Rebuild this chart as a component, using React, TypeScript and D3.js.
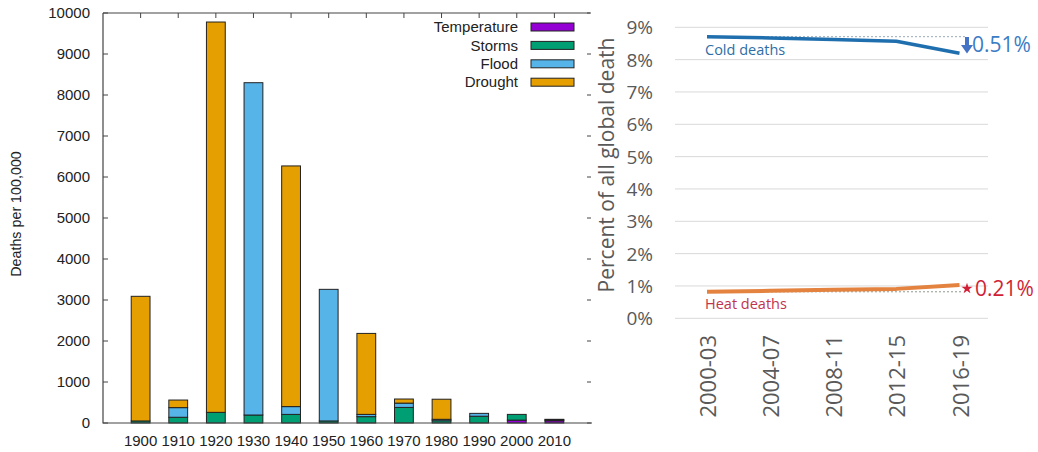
import React from "react";
import * as d3 from "d3";

// ---------- Left chart data (deaths per 100,000, stacked) ----------
const decades = ["1900", "1910", "1920", "1930", "1940", "1950", "1960", "1970", "1980", "1990", "2000", "2010"];
const temperature = [0, 0, 0, 0, 0, 0, 0, 0, 0, 0, 70, 55];
const storms = [50, 140, 260, 195, 210, 50, 155, 380, 55, 165, 140, 25];
const flood = [0, 235, 0, 8105, 190, 3210, 55, 105, 35, 70, 0, 10];
const drought = [3040, 185, 9520, 0, 5870, 0, 1975, 100, 490, 0, 0, 0];
const leftYTicks = [0, 1000, 2000, 3000, 4000, 5000, 6000, 7000, 8000, 9000, 10000];
const seriesNames = ["Temperature", "Storms", "Flood", "Drought"];
const seriesColors = ["#9400D3", "#009E73", "#56B4E9", "#E69F00"];

// ---------- Right chart data (percent of all global deaths) ----------
const periods = ["2000-03", "2004-07", "2008-11", "2012-15", "2016-19"];
const coldDeaths = [8.71, 8.67, 8.62, 8.57, 8.2];
const heatDeaths = [0.82, 0.85, 0.88, 0.91, 1.03];
const rightYTicks = [0, 1, 2, 3, 4, 5, 6, 7, 8, 9];

export default function App() {
  // left scales
  const L = { left: 103, right: 592, top: 13, bottom: 423 };
  const x = d3.scaleLinear().domain([-1, 12]).range([L.left, L.right]);
  const y = d3.scaleLinear().domain([0, 10000]).range([L.bottom, L.top]);
  const bw = x(0.5) - x(0);

  const rows = decades.map((d, i) => ({
    decade: d,
    Temperature: temperature[i],
    Storms: storms[i],
    Flood: flood[i],
    Drought: drought[i],
  }));
  const stack = d3.stack<any>().keys(seriesNames)(rows);

  // right scales
  const R = { left: 675, right: 988, top: 27.3, bottom: 318.3 };
  const xr = d3.scalePoint<string>().domain(periods).range([707, 959.5]);
  const yr = d3.scaleLinear().domain([0, 9]).range([R.bottom, R.top]);
  const line = d3
    .line<number>()
    .x((_, i) => xr(periods[i]) as number)
    .y((v) => yr(v));
  const star = d3.symbol().type(d3.symbolStar).size(38)() as string;

  const sans = "'Liberation Sans', Arial, sans-serif";
  const open = "'Open Sans', sans-serif";
  const lastX = xr(periods[4]) as number;

  return (
    <svg width={1038} height={452} style={{ position: "absolute", left: 0, top: 0, background: "#fff" }}>
      <rect x={0} y={0} width={1038} height={452} fill="#fff" />
      {/* ---------------- LEFT CHART ---------------- */}
      <g fontFamily={sans} fill="#222">
        {/* bars */}
        {stack.map((s, si) => (
          <g key={seriesNames[si]}>
            {s.map((d, i) =>
              d[1] - d[0] > 0 ? (
                <rect
                  key={i}
                  x={x(i) - bw / 2}
                  y={y(d[1])}
                  width={bw}
                  height={y(d[0]) - y(d[1])}
                  fill={seriesColors[si]}
                  stroke="#222"
                  strokeWidth={1}
                />
              ) : null
            )}
          </g>
        ))}
        {/* frame */}
        <path
          d={`M${L.left},${L.top}V${L.bottom}H${L.right}M${L.left},${L.top}H${L.right - 2}`}
          fill="none"
          stroke="#444"
          strokeWidth={1.2}
        />
        {/* y ticks */}
        {leftYTicks.map((t) => (
          <g key={t}>
            <line x1={L.left} x2={L.left + 5} y1={y(t)} y2={y(t)} stroke="#444" />
            <line x1={L.right - 5} x2={L.right - 1} y1={y(t)} y2={y(t)} stroke="#444" />
            <text x={90} y={y(t) + 5.3} textAnchor="end" fontSize={15}>
              {t}
            </text>
          </g>
        ))}
        {/* x ticks & labels */}
        {decades.map((d, i) => (
          <g key={d}>
            <line x1={x(i)} x2={x(i)} y1={L.top} y2={L.top + 5} stroke="#444" />
            <text x={x(i)} y={446} textAnchor="middle" fontSize={15}>
              {d}
            </text>
          </g>
        ))}
        <text transform="translate(21,214) rotate(-90)" textAnchor="middle" fontSize={14.3}>
          Deaths per 100,000
        </text>
        {/* legend */}
        {seriesNames.map((n, i) => {
          const cy = 27 + i * 18.4;
          return (
            <g key={n}>
              <text x={518} y={cy + 5.2} textAnchor="end" fontSize={15}>
                {n}
              </text>
              <rect x={531} y={cy - 4} width={43} height={8} fill={seriesColors[i]} stroke="#222" />
            </g>
          );
        })}
      </g>

      {/* ---------------- RIGHT CHART ---------------- */}
      <g fontFamily={open}>
        {rightYTicks.map((t) => (
          <g key={t}>
            <line x1={R.left} x2={R.right} y1={yr(t)} y2={yr(t)} stroke="#d9d9d9" strokeWidth={1} />
            <text x={653} y={yr(t) + 7} textAnchor="end" fontSize={19} fill="#595959">
              {t}%
            </text>
          </g>
        ))}
        <text transform="translate(614,165) rotate(-90)" textAnchor="middle" fontSize={21} fill="#595959">
          Percent of all global death
        </text>
        {periods.map((p) => (
          <text
            key={p}
            transform={`translate(${(xr(p) as number) + 9},335) rotate(-90)`}
            textAnchor="end"
            fontSize={22}
            fill="#595959"
          >
            {p}
          </text>
        ))}
        {/* reference dotted lines */}
        <line x1={707} x2={965} y1={yr(coldDeaths[0])} y2={yr(coldDeaths[0])} stroke="#9aaabb" strokeDasharray="2,2" />
        <line x1={707} x2={962} y1={yr(heatDeaths[0])} y2={yr(heatDeaths[0])} stroke="#8f9a8f" strokeDasharray="2,2" />
        {/* lines */}
        <path d={line(coldDeaths) as string} fill="none" stroke="#1f6fae" strokeWidth={3.5} strokeLinejoin="round" />
        <path d={line(heatDeaths) as string} fill="none" stroke="#e4823f" strokeWidth={4} strokeLinejoin="round" />
        {/* labels */}
        <text x={705} y={55} fontSize={14.5} fill="#2f6ea5">
          Cold deaths
        </text>
        <text x={705} y={309} fontSize={14.5} fill="#c2334d">
          Heat deaths
        </text>
        {/* arrow */}
        <path
          d={`M${lastX + 5.5},37 h4 v8 h4 l-6,8.5 l-6,-8.5 h4 z`}
          fill="#4472c4"
        />
        <text x={972} y={52} fontSize={21} fill="#3b7dc4">
          0.51%
        </text>
        <path d={star} transform={`translate(${lastX + 7.5},288.5)`} fill="#d11f36" />
        <text x={975} y={296} fontSize={21} fill="#d11f36">
          0.21%
        </text>
      </g>
    </svg>
  );
}
